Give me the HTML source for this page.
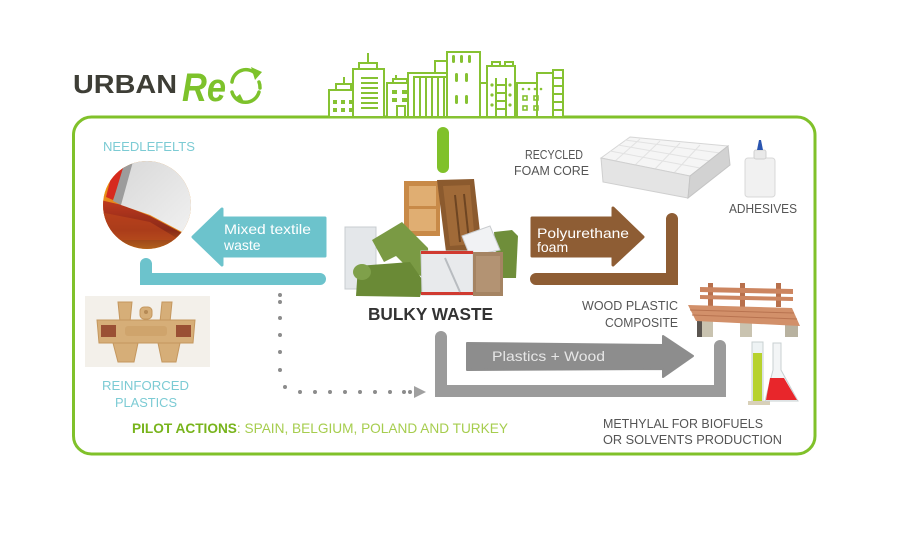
<!DOCTYPE html>
<html><head><meta charset="utf-8"><style>
html,body{margin:0;padding:0;background:#fff;}
svg{display:block;}
text{font-family:"Liberation Sans",sans-serif;}
</style></head><body>
<svg width="900" height="550" viewBox="0 0 900 550" xmlns="http://www.w3.org/2000/svg">
<defs>
<clipPath id="cc"><circle cx="147" cy="205" r="44"/></clipPath>
<linearGradient id="fbot" x1="0" y1="0" x2="0" y2="1"><stop offset="0" stop-color="#c0391e"/><stop offset="0.5" stop-color="#8a2a18"/><stop offset="1" stop-color="#c9821f"/></linearGradient>
<linearGradient id="felt" x1="0" y1="0" x2="1" y2="1"><stop offset="0" stop-color="#d8d8d8"/><stop offset="1" stop-color="#f2f2f2"/></linearGradient>
</defs>
<rect width="900" height="550" fill="#fff"/>

<!-- frame -->
<rect x="73.5" y="117" width="741.5" height="337" rx="18" fill="none" stroke="#80c12a" stroke-width="3"/>

<!-- logo -->
<text x="73" y="93" font-size="26" font-weight="bold" fill="#3e3e36" textLength="104" lengthAdjust="spacingAndGlyphs">URBAN</text>
<text x="182" y="101" font-size="40" font-style="italic" font-weight="bold" fill="#7dc22b" font-family="Liberation Serif, serif" textLength="44" lengthAdjust="spacingAndGlyphs">Re</text>
<path d="M256,74 A14,14 0 0 0 232,82" fill="none" stroke="#7dc22b" stroke-width="3.5" stroke-linecap="round"/>
<path d="M232,92 A14,14 0 0 0 259,92" fill="none" stroke="#7dc22b" stroke-width="3.5" stroke-linecap="round"/>
<polygon points="251,67 262,72 255,80" fill="#7dc22b"/>
<polygon points="234,99 244,102 240,94" fill="#7dc22b"/>
<path d="M259,82 A14,14 0 0 1 260,88" fill="none" stroke="#7dc22b" stroke-width="3.5" stroke-linecap="round"/>

<!-- skyline -->
<g fill="#fff" stroke="#86c232" stroke-width="2">
<rect x="329" y="90" width="29" height="27"/>
<rect x="336" y="84" width="15" height="6"/>
<line x1="344" y1="77" x2="344" y2="84"/>
<rect x="353" y="69" width="31" height="48"/>
<rect x="359" y="63" width="18" height="6"/>
<line x1="368" y1="53" x2="368" y2="63"/>
<rect x="387" y="83" width="25" height="34"/>
<rect x="393" y="79" width="14" height="4"/>
<line x1="396" y1="75" x2="396" y2="79"/>
<rect x="408" y="73" width="42" height="44"/>
<rect x="435" y="61" width="12" height="12"/>
<rect x="447" y="52" width="33" height="65"/>
<rect x="480" y="83" width="7" height="34"/>
<rect x="487" y="66" width="28" height="51"/>
<rect x="492" y="62" width="8" height="4"/>
<rect x="505" y="62" width="8" height="4"/>
<rect x="517" y="83" width="28" height="34"/>
<rect x="537" y="73" width="16" height="44"/>
<rect x="553" y="70" width="10" height="47"/>
</g>
<g stroke="#86c232" stroke-width="2" fill="none">
<path d="M361,78H378M361,83H378M361,88H378M361,93H378M361,98H378M361,103H378M361,108H378"/>
<path d="M414,78V117M420,78V117M426,78V117M432,78V117M438,78V117M444,78V117"/>
<path d="M413,77H446"/>
<path d="M496,78V117M506,78V117M496,85H506M496,93H506M496,101H506M496,109H506"/>
<path d="M553,78H563M553,86H563M553,94H563M553,102H563M553,110H563"/>
<path d="M397,117V106H405V117"/>
</g>
<g fill="#86c232">
<rect x="333" y="100" width="4" height="4"/><rect x="341" y="100" width="4" height="4"/><rect x="349" y="100" width="4" height="4"/>
<rect x="333" y="108" width="4" height="4"/><rect x="341" y="108" width="4" height="4"/><rect x="349" y="108" width="4" height="4"/>
<rect x="392" y="90" width="5" height="4"/><rect x="402" y="90" width="5" height="4"/>
<rect x="392" y="98" width="5" height="4"/><rect x="402" y="98" width="5" height="4"/>
<rect x="452" y="55" width="3" height="8" rx="1.5"/><rect x="460" y="55" width="3" height="8" rx="1.5"/><rect x="468" y="55" width="3" height="8" rx="1.5"/>
<rect x="455" y="73" width="3" height="9" rx="1.5"/><rect x="465" y="73" width="3" height="9" rx="1.5"/>
<rect x="455" y="95" width="3" height="9" rx="1.5"/><rect x="465" y="95" width="3" height="9" rx="1.5"/>
<circle cx="492" cy="85" r="1.6"/><circle cx="510" cy="85" r="1.6"/><circle cx="492" cy="95" r="1.6"/><circle cx="510" cy="95" r="1.6"/><circle cx="492" cy="105" r="1.6"/><circle cx="510" cy="105" r="1.6"/>
<circle cx="523" cy="89" r="1.3"/><circle cx="529" cy="89" r="1.3"/><circle cx="535" cy="89" r="1.3"/><circle cx="541" cy="89" r="1.3"/>
</g>
<g fill="none" stroke="#86c232" stroke-width="1.6">
<rect x="523" y="96" width="4" height="4"/><rect x="534" y="96" width="4" height="4"/>
<rect x="523" y="106" width="4" height="4"/><rect x="534" y="106" width="4" height="4"/>
</g>

<!-- green pill -->
<line x1="443" y1="133" x2="443" y2="167" stroke="#80c12a" stroke-width="12" stroke-linecap="round"/>

<!-- NEEDLEFELTS -->
<text x="103" y="151" font-size="12.5" fill="#7ccbd4" textLength="92" lengthAdjust="spacingAndGlyphs">NEEDLEFELTS</text>
<g clip-path="url(#cc)">
<rect x="100" y="158" width="100" height="100" fill="#e88a1a"/>
<polygon points="100,158 118,158 104,196 100,200" fill="#f2b21a"/>
<polygon points="116,158 128,158 113,200 106,197" fill="#d62a1e"/>
<polygon points="100,200 122,205 150,216 182,233 200,235 200,260 100,260" fill="url(#fbot)"/>
<polygon points="100,212 150,222 180,240 100,240" fill="#c24a1c" opacity="0.6"/>
<polygon points="126,158 136,158 121,205 113,201" fill="#9c9c9c"/>
<polygon points="134,158 200,158 200,234 182,232 150,215 121,205" fill="url(#felt)"/>
</g>

<!-- teal arrow -->
<polygon points="325,218 222,218 222,209 193,237 222,265 222,256 325,256" fill="#6cc3cc" stroke="#6cc3cc" stroke-width="3" stroke-linejoin="round"/>
<text x="224" y="234" font-size="14" fill="#fff" textLength="87" lengthAdjust="spacingAndGlyphs">Mixed textile</text>
<text x="224" y="250" font-size="14" fill="#fff">waste</text>
<path d="M146,264 V279 H320" fill="none" stroke="#6cc3cc" stroke-width="12" stroke-linecap="round"/>

<!-- reinforced plastic photo -->
<rect x="85" y="296" width="125" height="71" fill="#f3f0ea"/>
<g fill="#d6ae78" stroke="#c4975e" stroke-width="1">
<polygon points="118,302 132,302 130,322 120,322"/>
<polygon points="162,302 172,302 170,322 160,322"/>
<rect x="140" y="307" width="12" height="12" rx="4"/>
<polygon points="97,320 195,320 193,343 99,343"/>
<polygon points="113,343 138,343 134,362 118,362"/>
<polygon points="158,343 180,343 176,362 162,362"/>
</g>
<rect x="101" y="325" width="15" height="12" fill="#9a5034"/>
<rect x="176" y="325" width="15" height="12" fill="#9a5034"/>
<rect x="125" y="326" width="42" height="10" rx="3" fill="#cfa46c"/>
<circle cx="146" cy="312" r="2" fill="#b58a55"/>
<text x="102" y="390" font-size="12.5" fill="#7ccbd4" textLength="87" lengthAdjust="spacingAndGlyphs">REINFORCED</text>
<text x="115" y="407" font-size="12.5" fill="#7ccbd4" textLength="62" lengthAdjust="spacingAndGlyphs">PLASTICS</text>

<!-- dotted line -->
<g fill="#8c8c8c">
<circle cx="280" cy="295" r="2"/><circle cx="280" cy="302" r="2"/><circle cx="280" cy="318" r="2"/><circle cx="280" cy="335" r="2"/><circle cx="280" cy="352" r="2"/><circle cx="280" cy="370" r="2"/><circle cx="285" cy="387" r="2"/>
<circle cx="300" cy="392" r="2"/><circle cx="315" cy="392" r="2"/><circle cx="330" cy="392" r="2"/><circle cx="345" cy="392" r="2"/><circle cx="360" cy="392" r="2"/><circle cx="375" cy="392" r="2"/><circle cx="390" cy="392" r="2"/><circle cx="404" cy="392" r="2"/><circle cx="410" cy="392" r="2"/>
<polygon points="414,386 426,392 414,398" fill="#a0a0a0"/>
</g>

<!-- pilot actions -->
<text x="132" y="433" font-size="14" fill="#a6cd4e" textLength="376" lengthAdjust="spacingAndGlyphs"><tspan font-weight="bold" fill="#78b41c">PILOT ACTIONS</tspan>: SPAIN, BELGIUM, POLAND AND TURKEY</text>

<!-- bulky waste pile -->
<g>
<rect x="345" y="227" width="31" height="62" fill="#e4e7ea" stroke="#c8ccd0"/>
<rect x="404" y="181" width="36" height="55" fill="#c88a48"/>
<rect x="409" y="186" width="27" height="20" fill="#e0ae72"/>
<rect x="409" y="209" width="27" height="22" fill="#e0ae72"/>
<polygon points="437,180 474,179 482,250 446,252" fill="#8b5a2e"/>
<polygon points="443,186 470,185 475,244 450,246" fill="#a06a38"/>
<line x1="455" y1="195" x2="460" y2="242" stroke="#6e4522" stroke-width="2"/>
<line x1="464" y1="194" x2="469" y2="241" stroke="#6e4522" stroke-width="2"/>
<polygon points="494,232 512,230 518,236 516,278 498,278" fill="#6f8e3a"/>
<polygon points="462,236 490,226 500,250 470,256" fill="#f1f2f4" stroke="#c9cccf"/>
<polygon points="372,240 402,222 428,248 430,280 412,272 396,256 384,262" fill="#7a9a44"/>
<polygon points="358,266 410,262 424,282 420,297 356,296" fill="#6a8a36"/>
<ellipse cx="362" cy="272" rx="9" ry="8" fill="#7fa04a"/>
<polygon points="421,251 473,251 473,295 422,295" fill="#e8eaec" stroke="#cfd3d6"/>
<rect x="421" y="251" width="52" height="3" fill="#d03a30"/>
<rect x="421" y="292" width="52" height="3" fill="#d03a30"/>
<line x1="445" y1="258" x2="460" y2="292" stroke="#b8bcc0" stroke-width="2"/>
<rect x="473" y="252" width="30" height="44" fill="#a58463"/>
<rect x="476" y="256" width="24" height="36" fill="#b39373"/>
</g>
<text x="368" y="320" font-size="17.5" font-weight="bold" fill="#333" textLength="125" lengthAdjust="spacingAndGlyphs">BULKY WASTE</text>

<!-- brown arrow -->
<polygon points="532,218 613,218 613,208 643,237 613,265 613,256 532,256" fill="#8e5d34" stroke="#8e5d34" stroke-width="3" stroke-linejoin="round"/>
<text x="537" y="238" font-size="14" fill="#fff" textLength="92" lengthAdjust="spacingAndGlyphs">Polyurethane</text>
<text x="537" y="252" font-size="14" fill="#fff">foam</text>
<path d="M672,219 V279 H536" fill="none" stroke="#8e5d34" stroke-width="12" stroke-linecap="round"/>

<!-- recycled foam core -->
<text x="525" y="159" font-size="12.5" fill="#555" textLength="58" lengthAdjust="spacingAndGlyphs">RECYCLED</text>
<text x="514" y="175" font-size="12.5" fill="#555" textLength="75" lengthAdjust="spacingAndGlyphs">FOAM CORE</text>
<!-- mattress -->
<polygon points="601,158 630,137 728,146 690,176" fill="#f5f5f5" stroke="#d6d6d6"/>
<g stroke="#e2e2e2" stroke-width="1">
<line x1="610" y1="151" x2="700" y2="168"/><line x1="618" y1="145" x2="710" y2="161"/><line x1="625" y1="140" x2="720" y2="153"/>
<line x1="640" y1="139" x2="614" y2="162"/><line x1="660" y1="141" x2="634" y2="166"/><line x1="680" y1="143" x2="654" y2="170"/><line x1="700" y1="145" x2="674" y2="173"/>
</g>
<polygon points="601,158 690,176 688,198 603,182" fill="#e4e4e4" stroke="#cfcfcf"/>
<polygon points="690,176 728,146 730,165 688,198" fill="#d2d2d2" stroke="#c4c4c4"/>
<!-- glue -->
<rect x="745" y="158" width="30" height="39" rx="3" fill="#f1f1f1" stroke="#d8d8d8"/>
<rect x="754" y="150" width="12" height="9" rx="2" fill="#e9e9e9" stroke="#d0d0d0"/>
<polygon points="757,150 763,150 761,140 759,140" fill="#2a55b0"/>
<text x="729" y="213" font-size="12.5" fill="#555" textLength="68" lengthAdjust="spacingAndGlyphs">ADHESIVES</text>

<!-- gray arrow -->
<polygon points="467,343 663,345 663,336 693,356 663,377 663,369 467,370" fill="#8d8d8d" stroke="#8d8d8d" stroke-width="2" stroke-linejoin="round"/>
<text x="492" y="361" font-size="14" fill="#e6e6e6" textLength="113" lengthAdjust="spacingAndGlyphs">Plastics + Wood</text>
<path d="M441,337 V391 H720 V346" fill="none" stroke="#9b9b9b" stroke-width="12" stroke-linecap="round"/>

<!-- wood plastic composite -->
<text x="582" y="310" font-size="12.5" fill="#555" textLength="96" lengthAdjust="spacingAndGlyphs">WOOD PLASTIC</text>
<text x="605" y="327" font-size="12.5" fill="#555" textLength="73" lengthAdjust="spacingAndGlyphs">COMPOSITE</text>
<!-- bench -->
<g>
<rect x="708" y="283" width="5" height="24" fill="#b8704c"/>
<rect x="740" y="283" width="5" height="24" fill="#b8704c"/>
<rect x="776" y="283" width="5" height="24" fill="#b8704c"/>
<polygon points="700,287 793,289 793,294 700,292" fill="#cc8560"/>
<polygon points="700,295 793,297 793,301 700,299" fill="#cc8560"/>
<rect x="697" y="318" width="16" height="19" fill="#c9c3b0"/>
<rect x="697" y="318" width="5" height="19" fill="#5a5550"/>
<rect x="740" y="321" width="12" height="16" fill="#c9c3b0"/>
<rect x="785" y="322" width="13" height="15" fill="#b8b2a0"/>
<polygon points="688,305 792,308 800,326 696,321" fill="#d2906a"/>
<line x1="690" y1="310" x2="794" y2="313" stroke="#b87350"/>
<line x1="692" y1="315" x2="797" y2="319" stroke="#b87350"/>
</g>
<!-- flasks -->
<g>
<rect x="752" y="342" width="11" height="60" fill="#eef3f4" stroke="#c8d0d2"/>
<rect x="753" y="353" width="9" height="48" fill="#b7d22e"/>
<rect x="748" y="401" width="22" height="4" fill="#d8d0b8"/>
<polygon points="773,343 781,343 781,370 798,401 765,401 773,370" fill="#f3f5f6" stroke="#c8d0d2"/>
<polygon points="770,378 784,378 797,400 766,400" fill="#e8262b"/>
</g>
<text x="603" y="428" font-size="12.5" fill="#555" textLength="160" lengthAdjust="spacingAndGlyphs">METHYLAL FOR BIOFUELS</text>
<text x="603" y="444" font-size="12.5" fill="#555" textLength="179" lengthAdjust="spacingAndGlyphs">OR SOLVENTS PRODUCTION</text>
</svg>
</body></html>
